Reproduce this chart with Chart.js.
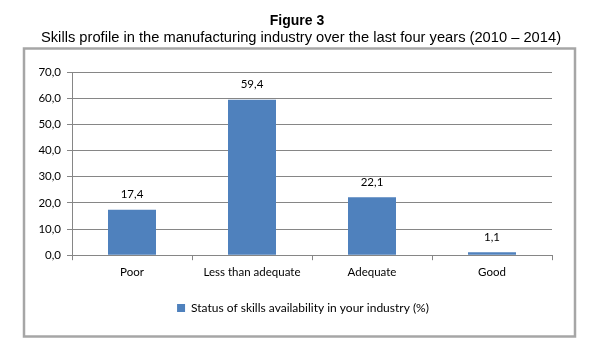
<!DOCTYPE html>
<html>
<head>
<meta charset="utf-8">
<script src="https://cdn.jsdelivr.net/npm/chart.js@4.4.0/dist/chart.umd.min.js"></script>
<style>
html,body{margin:0;padding:0;background:#fff;}
#wrap{position:relative;width:593px;height:354px;}
#c{position:absolute;left:0;top:0;}
.t{position:absolute;white-space:nowrap;color:#000;font-family:'Liberation Sans',Arial,sans-serif;transform:translateX(-50%);line-height:1;}
#title{left:297px;top:13px;font-size:14px;font-weight:bold;}
#subtitle{left:301px;top:30px;font-size:14.7px;}
</style>
</head>
<body>
<div id="wrap">
<canvas id="c" width="593" height="354"></canvas>
<div class="t" id="title"></div>
<div class="t" id="subtitle"></div>
</div>
<script>
const titleText = "Figure 3";
const subtitleText = "Skills profile in the manufacturing industry over the last four years (2010 \u2013 2014)";
const categories = ["Poor", "Less than adequate", "Adequate", "Good"];
const seriesName = "Status of skills availability in your industry (%)";
const values = [17.4, 59.4, 22.1, 1.1];
const yTicks = [0, 10, 20, 30, 40, 50, 60, 70];

document.getElementById('title').textContent = titleText;
document.getElementById('subtitle').textContent = subtitleText;

const fmt = v => v.toFixed(1).replace('.', ',');
const axisFont = { family: "Lato, 'Open Sans', sans-serif", size: 11.5 };
const legendFont = { family: "Lato, 'Open Sans', sans-serif", size: 12 };

const framePlugin = {
  id: 'frame',
  beforeDraw(chart) {
    const ctx = chart.ctx;
    ctx.save();
    ctx.strokeStyle = '#a6a6a6';
    ctx.lineWidth = 2.5;
    ctx.strokeRect(24, 48.5, 551, 288);
    ctx.restore();
  }
};

const legendShift = {
  id: 'legendShift',
  afterLayout(chart) {
    if (chart.legend) { chart.legend.left += 14; chart.legend.right += 14; }
  }
};

const labelPlugin = {
  id: 'valueLabels',
  afterDatasetsDraw(chart) {
    const ctx = chart.ctx;
    const meta = chart.getDatasetMeta(0);
    ctx.save();
    ctx.fillStyle = '#000';
    ctx.font = axisFont.size + "px " + axisFont.family;
    ctx.textAlign = 'center';
    ctx.textBaseline = 'middle';
    meta.data.forEach((bar, i) => {
      ctx.fillText(fmt(chart.data.datasets[0].data[i]), bar.x, bar.y - 15);
    });
    ctx.restore();
  }
};

new Chart(document.getElementById('c'), {
  type: 'bar',
  data: {
    labels: categories,
    datasets: [{
      label: seriesName,
      data: values,
      backgroundColor: '#4F81BD',
      borderWidth: 0,
      barPercentage: 0.4,
      categoryPercentage: 1.0
    }]
  },
  options: {
    responsive: false,
    animation: false,
    devicePixelRatio: 1,
    layout: { padding: { left: 26, right: 41, top: 72, bottom: 30 } },
    plugins: {
      title: { display: false },
      legend: {
        display: true,
        position: 'bottom',
        labels: {
          color: '#000',
          font: legendFont,
          boxWidth: 8,
          boxHeight: 8,
          padding: 18
        }
      },
      tooltip: { enabled: false }
    },
    scales: {
      x: {
        grid: { display: true, offset: true, drawOnChartArea: false, drawTicks: true, tickLength: 5, color: '#868686' },
        border: { display: true, color: '#868686', width: 1 },
        ticks: { color: '#000', font: axisFont, padding: 5, maxRotation: 0 }
      },
      y: {
        min: 0,
        max: 70,
        afterFit(scale) { scale.width = 46; },
        afterBuildTicks(scale) { scale.ticks = yTicks.map(v => ({ value: v })); },
        grid: { color: '#868686', tickLength: 5, drawTicks: true },
        border: { display: true, color: '#868686', width: 1 },
        ticks: { color: '#000', font: axisFont, padding: 6, callback: v => fmt(v) }
      }
    }
  },
  plugins: [framePlugin, legendShift, labelPlugin]
});
</script>
</body>
</html>
